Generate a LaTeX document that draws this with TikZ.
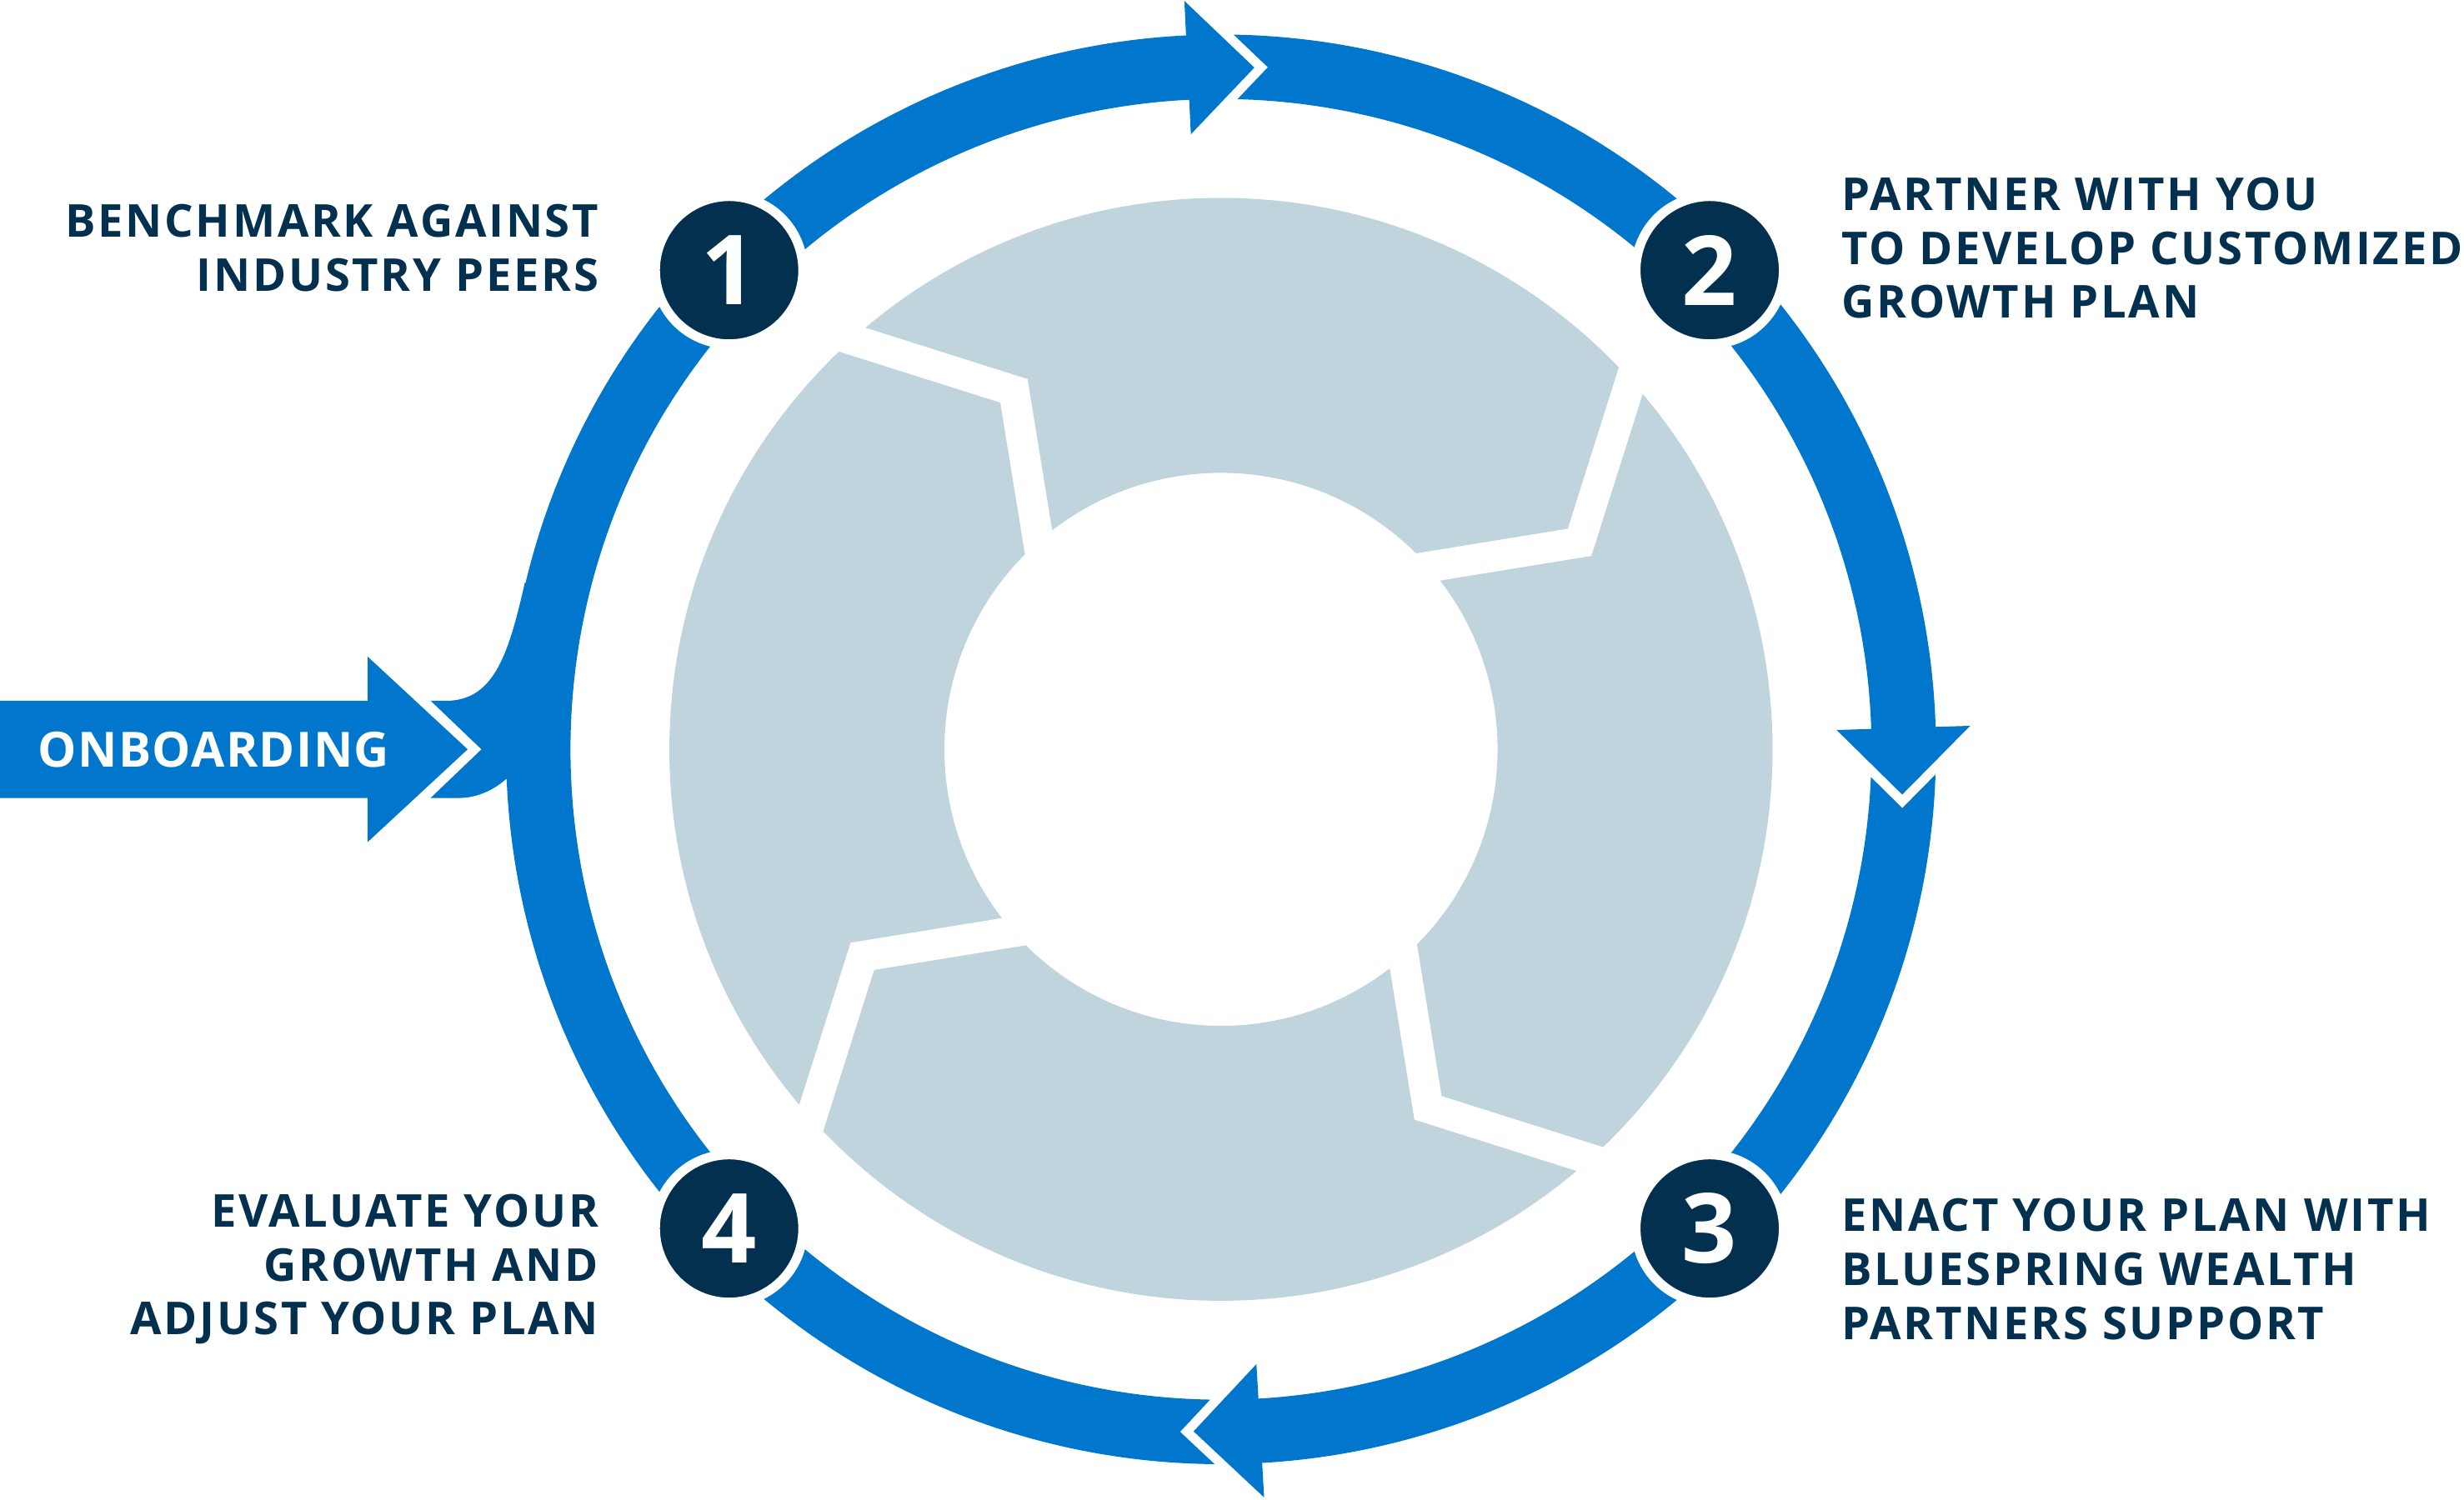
\documentclass[tikz,border=0pt]{standalone}
\usepackage{fontspec}
\setsansfont{Open Sans}
\renewcommand{\familydefault}{\sfdefault}
\newfontfamily\lblfont{Open Sans}[LetterSpace=5]
\newfontfamily\obfont{Open Sans}[LetterSpace=2.3]
\usepackage{tikz}
\usetikzlibrary{positioning}

\definecolor{ringblue}{HTML}{0077CC}
\definecolor{navy}{HTML}{03304F}
\definecolor{mist}{HTML}{BFD4DC}

\begin{document}
\begin{tikzpicture}[x=0.01cm, y=0.01cm,
    band/.style={draw=ringblue, line width=0.41cm},
    headarrow/.style={fill=ringblue, preaction={draw=white, line width=0.12cm}},
    gapline/.style={draw=white, line width=0.195cm, shorten <=-0.15cm, shorten >=-0.15cm},
    numdot/.style={circle, fill=navy, draw=white, line width=0.06cm, minimum size=0.94cm,
      inner sep=0pt, text=white, font=\fontsize{17.5pt}{18pt}\selectfont\bfseries},
    lbl/.style={text=navy, inner sep=0pt, outer sep=0pt,
      font=\lblfont\fontsize{8.2pt}{9.76pt}\selectfont\bfseries},
    obtext/.style={text=white, inner sep=0pt, font=\obfont\fontsize{8.8pt}{10pt}\selectfont\bfseries}]

  \useasboundingbox (-777,-477.3) rectangle (791,477);

  % grey wheel
  \fill[mist, even odd rule] (0,0) circle[radius=351] (0,0) circle[radius=176];
  \foreach \k in {0,...,3}
    \draw[gapline, rotate=-90*\k] (132:351) -- (120:263.5) -- (131.3:176);

  % blue ring, tails
  \draw[band] (91.5:434.5) arc[start angle=91.5, end angle=44.45, radius=434.5];
  \draw[band] (0.5:434.5) arc[start angle=0.5, end angle=-44.45, radius=434.5];
  \draw[band] (-88:434.5) arc[start angle=-88, end angle=-135.74, radius=434.5];
  \draw[band] (224.26:434.5) arc[start angle=224.26, end angle=135.74, radius=434.5];

  % onboarding
  \fill[ringblue] (-443,106) -- (-420,106) -- (-420,-19) -- (-455,-19)
    .. controls (-462,-25) and (-472,-31) .. (-486,-31) -- (-503,-31) -- (-470.6,0)
    -- (-503,31) -- (-490,31) .. controls (-462,33) and (-453,62) .. (-443,106) -- cycle;
  \fill[ringblue] (-777,31) -- (-543,31) -- (-543,59) -- (-479.4,0) -- (-543,-59)
    -- (-543,-31) -- (-777,-31) -- cycle;
  \node[obtext] (ob) at (-641,0) {ONBOARDING};

  % blue ring, heads
  \foreach \a/\p in {135.74/90, 44.45/-1, -44.45/-89.5}
    \path[headarrow] (\a:455) arc[start angle=\a, end angle=\p+2.8, radius=455]
      -- ({\p+2.8}:477) -- ({\p-2.8}:434.5) -- ({\p+2.8}:392) -- ({\p+2.8}:414)
      arc[start angle=\p+2.8, end angle=\a, radius=414] -- cycle;

  % steps
  \node[numdot] (n1) at (-313,305) {1};
  \node[numdot] (n2) at (311,305) {2};
  \node[numdot] (n3) at (311,-305) {3};
  \node[numdot] (n4) at (-313,-305) {4};

  \node[lbl, align=right, left=0.33cm of n1, yshift=0.14cm] (l1) {BENCHMARK AGAINST\\INDUSTRY PEERS};
  \node[lbl, align=left, right=0.34cm of n2, yshift=0.14cm] (l2) {PARTNER WITH YOU\\TO DEVELOP CUSTOMIZED\\GROWTH PLAN};
  \node[lbl, align=left, right=0.34cm of n3, yshift=-0.26cm] (l3) {ENACT YOUR PLAN WITH\\BLUESPRING WEALTH\\PARTNERS SUPPORT};
  \node[lbl, align=right, left=0.33cm of n4, yshift=-0.26cm] (l4) {EVALUATE YOUR\\GROWTH AND\\ADJUST YOUR PLAN};

\end{tikzpicture}
\end{document}
